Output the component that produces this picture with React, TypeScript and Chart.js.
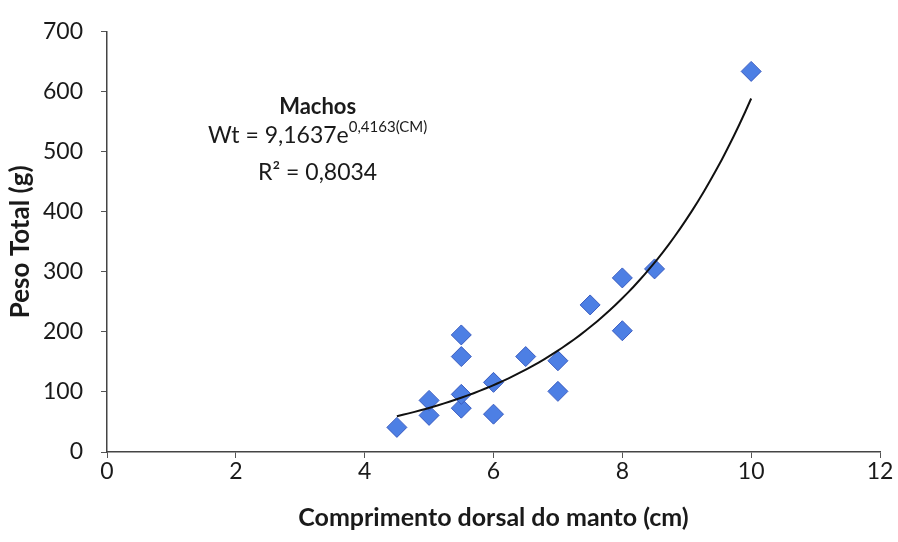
import React, { useEffect, useRef } from "react";
import { Chart, registerables } from "chart.js";

Chart.register(...registerables);

const lengthCm: number[] = [4.5, 5, 5, 5.5, 5.5, 5.5, 5.5, 6, 6, 6.5, 7, 7, 7.5, 8, 8, 8.5, 10];
const weightG: number[] = [41, 61, 86, 73, 96, 159, 195, 63, 116, 159, 101, 152, 245, 202, 290, 305, 634];
const trendCoef: number[] = [9.1637, 0.4163];
const trendRange: number[] = [4.5, 10];
const xTicks: number[] = [0, 2, 4, 6, 8, 10, 12];
const yTicks: number[] = [0, 100, 200, 300, 400, 500, 600, 700];
const annotationLines: string[] = ["Machos", "Wt = 9,1637e", "0,4163(CM)", "R² = 0,8034"];

const FONT = "Lato, 'Open Sans', sans-serif";

export default function App() {
  const ref = useRef<HTMLCanvasElement | null>(null);
  useEffect(() => {
    if (!ref.current) return;
    const points = lengthCm.map((x, i) => ({ x, y: weightG[i] }));
    const trend: { x: number; y: number }[] = [];
    const steps = 60;
    for (let i = 0; i <= steps; i++) {
      const x = trendRange[0] + ((trendRange[1] - trendRange[0]) * i) / steps;
      trend.push({ x, y: trendCoef[0] * Math.exp(trendCoef[1] * x) });
    }
    const annot = {
      id: "annot",
      afterDraw(chart: any) {
        const c = chart.ctx;
        const xs = chart.scales.x;
        const ys = chart.scales.y;
        c.save();
        c.fillStyle = "#1a1a1a";
        c.textBaseline = "middle";
        c.textAlign = "center";
        c.font = `bold 22px ${FONT}`;
        const cx = xs.getPixelForValue(3.27);
        c.fillText(annotationLines[0], cx, ys.getPixelForValue(575));
        c.font = `23px ${FONT}`;
        const w1 = c.measureText(annotationLines[1]).width;
        c.font = `15px ${FONT}`;
        const w2 = c.measureText(annotationLines[2]).width;
        const startX = cx - (w1 + w2) / 2;
        c.textAlign = "left";
        c.font = `23px ${FONT}`;
        const yEq = ys.getPixelForValue(527);
        c.fillText(annotationLines[1], startX, yEq);
        c.font = `15px ${FONT}`;
        c.fillText(annotationLines[2], startX + w1, yEq - 8);
        c.textAlign = "center";
        c.font = `23px ${FONT}`;
        c.fillText(annotationLines[3], cx, ys.getPixelForValue(466));
        c.restore();
      },
    };
    const chart = new Chart(ref.current, {
      type: "scatter",
      data: {
        datasets: [
          {
            label: "Machos",
            data: points,
            pointStyle: "rectRot",
            pointRadius: 10,
            pointBackgroundColor: "#4d7fe4",
            pointBorderColor: "#3a5cc0",
            pointBorderWidth: 1,
            order: 2,
          },
          {
            label: "Tendência",
            data: trend,
            showLine: true,
            pointRadius: 0,
            borderColor: "#111111",
            borderWidth: 2,
            tension: 0,
            order: 1,
          },
        ],
      },
      plugins: [annot],
      options: {
        animation: false,
        responsive: false,
        layout: { padding: { top: 29, right: 18, left: 0, bottom: 0 } },
        plugins: { legend: { display: false }, tooltip: { enabled: false } },
        scales: {
          x: {
            type: "linear",
            min: 0,
            max: 12,
            afterBuildTicks: (s: any) => {
              s.ticks = xTicks.map((v) => ({ value: v }));
            },
            afterFit: (s: any) => {
              s.height = 90;
            },
            ticks: { color: "#1a1a1a", font: { family: FONT, size: 23 }, padding: 0 },
            grid: { drawOnChartArea: false, drawTicks: true, tickLength: 6, color: "#555" },
            border: { display: true, color: "#444", width: 1.5 },
            title: {
              display: true,
              text: "Comprimento dorsal do manto (cm)",
              color: "#1a1a1a",
              font: { family: FONT, size: 25, weight: "bold" },
              padding: { top: 0, bottom: 9 },
            },
          },
          y: {
            type: "linear",
            min: 0,
            max: 700,
            afterBuildTicks: (s: any) => {
              s.ticks = yTicks.map((v) => ({ value: v }));
            },
            afterFit: (s: any) => {
              s.width = 107;
            },
            ticks: { color: "#1a1a1a", font: { family: FONT, size: 23 }, padding: 18 },
            grid: { drawOnChartArea: false, drawTicks: true, tickLength: 6, color: "#555" },
            border: { display: true, color: "#444", width: 1.5 },
            title: {
              display: true,
              text: "Peso Total (g)",
              color: "#1a1a1a",
              font: { family: FONT, size: 26, weight: "bold" },
              padding: { top: 5, bottom: 0 },
            },
          },
        },
      },
    });
    return () => chart.destroy();
  }, []);
  return (
    <div style={{ position: "fixed", left: 0, top: 0, width: 898, height: 542, background: "#fff" }}>
      <canvas ref={ref} width={898} height={542} style={{ display: "block" }} />
    </div>
  );
}
